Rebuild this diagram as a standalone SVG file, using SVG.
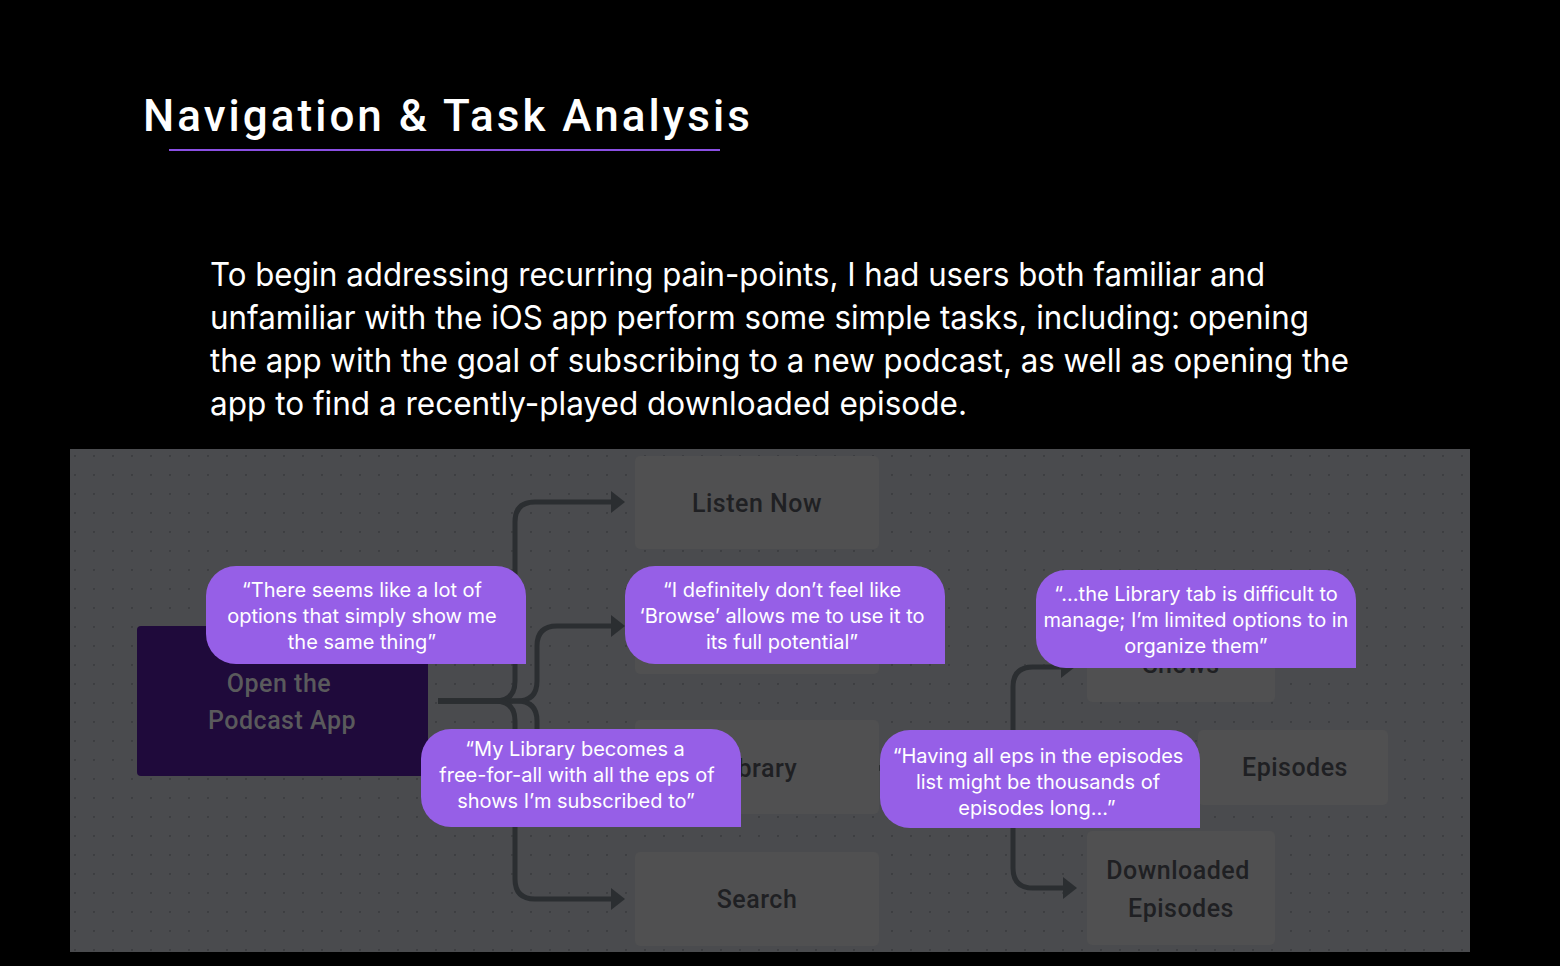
<svg xmlns="http://www.w3.org/2000/svg" width="1560" height="966" viewBox="0 0 1560 966">
<defs>
<pattern id="dots" x="74" y="455" width="19" height="19" patternUnits="userSpaceOnUse">
<circle cx="1" cy="1" r="1.1" fill="#3c3d40"/>
</pattern>
<marker id="arr" viewBox="0 0 14 22" markerWidth="14" markerHeight="22" refX="0" refY="11" orient="auto" markerUnits="userSpaceOnUse">
<path d="M0,0 L14,11 L0,22 z" fill="#2b2e31"/>
</marker>
<style>
.title{font-family:Roboto,"Liberation Sans",sans-serif;font-size:44px;font-weight:500;fill:#ffffff;letter-spacing:3.2px}
.para{font-family:Inter,"Liberation Sans",sans-serif;font-size:33px;fill:#ffffff}
.box{fill:#505051}
.lbl{font-family:Roboto,"DejaVu Sans",sans-serif;font-size:25px;font-weight:500;fill:#1f2023;text-anchor:middle;letter-spacing:0.5px}
.start-lbl{font-family:Roboto,"DejaVu Sans",sans-serif;font-size:25px;font-weight:500;fill:#5a5a5c;text-anchor:middle;letter-spacing:0.5px}
.con{fill:none;stroke:#2b2e31;stroke-width:5}
.bub{fill:#965fe7}
.btxt{font-family:Inter,"Liberation Sans",sans-serif;font-size:20px;fill:#ffffff;text-anchor:middle}
</style>
</defs>
<rect width="1560" height="966" fill="#000000"/>
<text class="title" x="143" y="131" textLength="610" lengthAdjust="spacing">Navigation &amp; Task Analysis</text>
<line x1="169" y1="150" x2="720" y2="150" stroke="#8a4fe3" stroke-width="2"/>
<g id="intro">
<text class="para" x="210" y="286" textLength="1055" lengthAdjust="spacingAndGlyphs">To begin addressing recurring pain-points, I had users both familiar and</text>
<text class="para" x="210" y="329" textLength="1099" lengthAdjust="spacingAndGlyphs">unfamiliar with the iOS app perform some simple tasks, including: opening</text>
<text class="para" x="210" y="372" textLength="1139" lengthAdjust="spacingAndGlyphs">the app with the goal of subscribing to a new podcast, as well as opening the</text>
<text class="para" x="210" y="415" textLength="757" lengthAdjust="spacingAndGlyphs">app to find a recently-played downloaded episode.</text>
</g>
<rect x="70" y="449" width="1400" height="503" fill="#4a4b4e"/>
<rect x="70" y="449" width="1400" height="503" fill="url(#dots)"/>
<g id="nodes">
<g id="open-app">
<rect x="137" y="626" width="291" height="150" rx="4" fill="#1f0a3b"/>
<text class="start-lbl" x="279" y="692">Open the</text>
<text class="start-lbl" x="282" y="729">Podcast App</text>
</g>
<g id="listen-now">
<rect class="box" x="635" y="456" width="244" height="93" rx="5"/>
<text class="lbl" x="757" y="512">Listen Now</text>
</g>
<g id="browse">
<rect class="box" x="635" y="578" width="244" height="96" rx="5"/>
</g>
<g id="library">
<rect class="box" x="635" y="720" width="244" height="94" rx="5"/>
<text class="lbl" x="757" y="777">Library</text>
</g>
<g id="search">
<rect class="box" x="635" y="852" width="244" height="94" rx="5"/>
<text class="lbl" x="757" y="908">Search</text>
</g>
<g id="shows">
<rect class="box" x="1087" y="612" width="188" height="90" rx="5"/>
<text class="lbl" x="1181" y="673">Shows</text>
</g>
<g id="episodes">
<rect class="box" x="1198" y="730" width="190" height="75" rx="5"/>
<text class="lbl" x="1295" y="776">Episodes</text>
</g>
<g id="downloaded">
<rect class="box" x="1087" y="831" width="188" height="114" rx="5"/>
<text class="lbl" x="1178" y="879">Downloaded</text>
<text class="lbl" x="1181" y="917">Episodes</text>
</g>
</g>
<g id="connectors">
<path class="con" marker-end="url(#arr)" d="M438,701 H495 Q515,701 515,681 V522 Q515,502 535,502 H611"/>
<path class="con" marker-end="url(#arr)" d="M438,701 H517 Q537,701 537,681 V646 Q537,626 557,626 H611"/>
<path class="con" marker-end="url(#arr)" d="M438,701 H517 Q537,701 537,721 V748 Q537,768 557,768 H611"/>
<path class="con" marker-end="url(#arr)" d="M438,701 H495 Q515,701 515,721 V879 Q515,899 535,899 H611"/>
<path class="con" marker-end="url(#arr)" d="M879,768 H993 Q1013,768 1013,748 V687 Q1013,667 1033,667 H1061"/>
<path class="con" marker-end="url(#arr)" d="M879,768 H1184"/>
<path class="con" marker-end="url(#arr)" d="M879,768 H993 Q1013,768 1013,788 V868 Q1013,888 1033,888 H1063"/>
</g>
<g id="quotes">
<g id="q1">
<path class="bub" d="M236,566 H496 A30,30 0 0 1 526,596 V664 H236 A30,30 0 0 1 206,634 V596 A30,30 0 0 1 236,566 Z"/>
<text class="btxt" x="362" y="597">“There seems like a lot of</text>
<text class="btxt" x="362" y="623">options that simply show me</text>
<text class="btxt" x="362" y="649">the same thing”</text>
</g>
<g id="q2">
<path class="bub" d="M655,566 H915 A30,30 0 0 1 945,596 V664 H655 A30,30 0 0 1 625,634 V596 A30,30 0 0 1 655,566 Z"/>
<text class="btxt" x="782" y="597">“I definitely don’t feel like</text>
<text class="btxt" x="782" y="623">‘Browse’ allows me to use it to</text>
<text class="btxt" x="782" y="649">its full potential”</text>
</g>
<g id="q3">
<path class="bub" d="M1066,570 H1326 A30,30 0 0 1 1356,600 V668 H1066 A30,30 0 0 1 1036,638 V600 A30,30 0 0 1 1066,570 Z"/>
<text class="btxt" x="1196" y="601">“...the Library tab is difficult to</text>
<text class="btxt" x="1196" y="627">manage; I’m limited options to in</text>
<text class="btxt" x="1196" y="653">organize them”</text>
</g>
<g id="q4">
<path class="bub" d="M451,729 H711 A30,30 0 0 1 741,759 V827 H451 A30,30 0 0 1 421,797 V759 A30,30 0 0 1 451,729 Z"/>
<text class="btxt" x="575" y="756">“My Library becomes a</text>
<text class="btxt" x="577" y="782">free-for-all with all the eps of</text>
<text class="btxt" x="576" y="808">shows I’m subscribed to”</text>
</g>
<g id="q5">
<path class="bub" d="M910,730 H1170 A30,30 0 0 1 1200,760 V828 H910 A30,30 0 0 1 880,798 V760 A30,30 0 0 1 910,730 Z"/>
<text class="btxt" x="1038" y="763">“Having all eps in the episodes</text>
<text class="btxt" x="1038" y="789">list might be thousands of</text>
<text class="btxt" x="1037" y="815">episodes long...”</text>
</g>
</g>
</svg>
